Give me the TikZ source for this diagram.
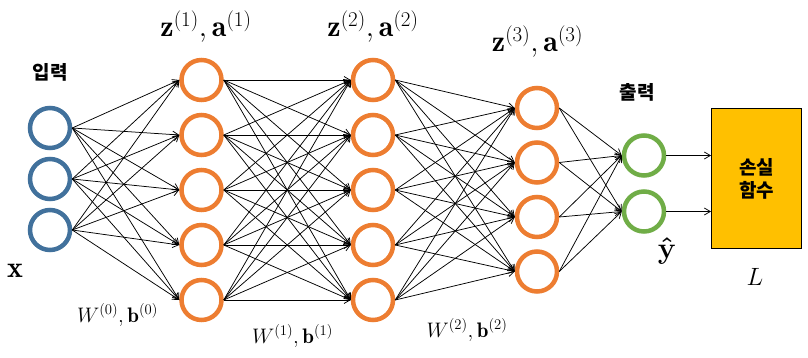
\RequirePackage{fix-cm}
\documentclass[tikz,border=0pt]{standalone}
\usepackage{amsmath}
\usepackage{fontspec}
\usepackage{xcolor}
\usepackage{tikz}
\usetikzlibrary{positioning, arrows.meta}

\newfontfamily\krfont{Noto Sans CJK KR}

\definecolor{inblue}{HTML}{41719C}
\definecolor{hidorange}{HTML}{ED7D31}
\definecolor{outgreen}{HTML}{70AD47}
\definecolor{lossyellow}{HTML}{FFC000}

\begin{document}
\begin{tikzpicture}[
    x=1pt, y=-1pt,
    neuron/.style={
        circle,
        draw,
        line width=4.5pt,
        minimum size=40pt,
        inner sep=0pt
    },
    inneuron/.style={neuron, draw=inblue},
    hidneuron/.style={neuron, draw=hidorange},
    outneuron/.style={neuron, draw=outgreen},
    lossbox/.style={
        draw,
        fill=lossyellow,
        line width=0.9pt,
        minimum width=90pt,
        minimum height=140pt,
        align=center,
        font=\krfont\bfseries\fontsize{19}{23}\selectfont
    },
    arrow/.style={
        -{Straight Barb[length=6pt, width=7pt]},
        line width=0.75pt
    },
    korlabel/.style={font=\krfont\bfseries\fontsize{19}{22}\selectfont},
    biglabel/.style={anchor=base, font=\fontsize{30}{34}\selectfont},
    wlabel/.style={anchor=base, font=\fontsize{21}{24}\selectfont}
]
\useasboundingbox (0,0) rectangle (808,358);

% Input layer
\foreach \i/\y in {1/128, 2/179, 3/230}
    \node[inneuron] (x\i) at (50,\y) {};

% Hidden layers
\foreach \i in {1,...,5} {
    \node[hidneuron] (za\i) at (201.5,{25+55*\i}) {};
    \node[hidneuron] (zb\i) at (373,{25+55*\i}) {};
}
\foreach \i in {1,...,4}
    \node[hidneuron] (zc\i) at (537,{53.5+54.5*\i}) {};

% Output layer
\node[outneuron] (y1) at (644,155.5) {};
\node[outneuron] (y2) at (644,211.5) {};

% Loss function
\node[lossbox] (loss) at (756.5,178.5) {손실\\함수};

% Labels
\node[korlabel] (inlab) at (50,72) {입력};
\node[korlabel] (outlab) at (637,92) {출력};
\node[biglabel] (xlab) at (15,277) {$\mathbf{x}$};
\node[biglabel, inner sep=1pt] (yhatlab) at (667,258) {$\boldsymbol{\hat{\mathbf{y}}}$};
\node[wlabel, font=\fontsize{25}{28}\selectfont] (losslab) at (755,285) {$L$};
\node[biglabel] (zalab) at (206,37) {$\mathbf{z}^{(1)},\mathbf{a}^{(1)}$};
\node[biglabel] (zblab) at (373,37) {$\mathbf{z}^{(2)},\mathbf{a}^{(2)}$};
\node[biglabel] (zclab) at (537.5,52) {$\mathbf{z}^{(3)},\mathbf{a}^{(3)}$};
\node[wlabel] (walab) at (117.5,322) {$W^{(0)},\mathbf{b}^{(0)}$};
\node[wlabel] (wblab) at (292.5,343) {$W^{(1)},\mathbf{b}^{(1)}$};
\node[wlabel] (wclab) at (467,337) {$W^{(2)},\mathbf{b}^{(2)}$};

% Arrows
\foreach \i in {1,2,3}
    \foreach \j in {1,...,5}
        \draw[arrow] (x\i.east) -- (za\j.west);
\foreach \i in {1,...,5}
    \foreach \j in {1,...,5}
        \draw[arrow] (za\i.east) -- (zb\j.west);
\foreach \i in {1,...,5}
    \foreach \j in {1,...,4}
        \draw[arrow] (zb\i.east) -- (zc\j.west);
\foreach \i in {1,...,4}
    \foreach \j in {1,2}
        \draw[arrow] (zc\i.east) -- (y\j.west);
\draw[arrow] (y1.east) -- (y1.east -| loss.west);
\draw[arrow] (y2.east) -- (y2.east -| loss.west);

\end{tikzpicture}
\end{document}
